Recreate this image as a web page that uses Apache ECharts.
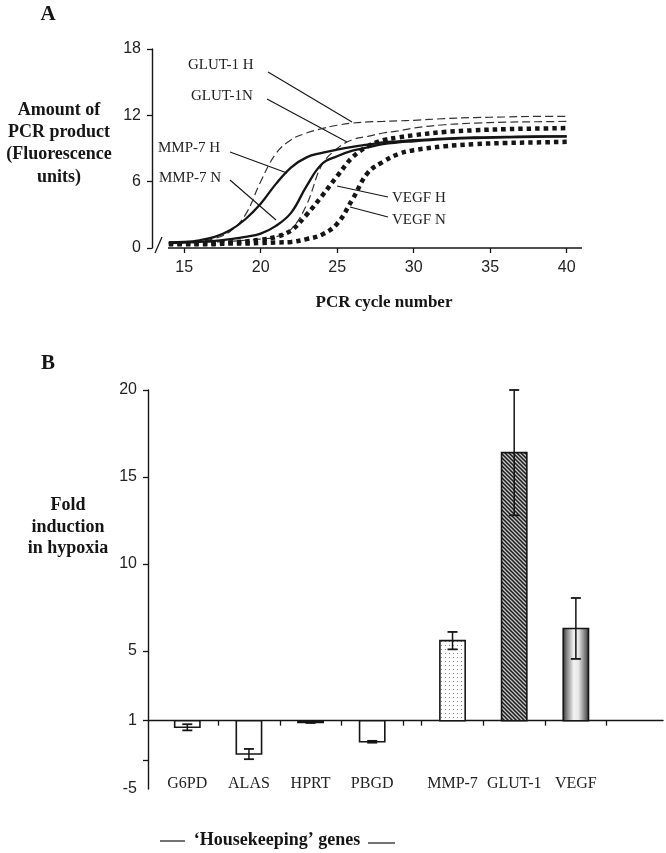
<!DOCTYPE html>
<html><head><meta charset="utf-8">
<script src="https://cdn.jsdelivr.net/npm/echarts@6/dist/echarts.min.js"></script>
<style>html,body{margin:0;padding:0;background:#fff}#c{width:666px;height:853px}</style>
</head><body><div id="c"></div>
<script>
// ---------- Panel A data (PCR amplification curves) ----------
const cycles  = [14,15,16,17,18,19,20,21,22,23,24,25,26,27,28,29,30,32,34,36,38,40];
const glut1H  = [0.45,0.5,0.6,0.85,1.5,3.0,6.0,8.55,9.8,10.4,10.8,11.1,11.3,11.4,11.45,11.5,11.55,11.7,11.8,11.85,11.9,11.9];
const glut1N  = [0.4,0.45,0.5,0.55,0.6,0.7,0.8,1.0,1.7,3.9,7.5,9.0,9.8,10.1,10.4,10.6,10.85,11.15,11.3,11.38,11.42,11.45];
const mmp7H   = [0.5,0.55,0.7,1.0,1.6,2.6,4.0,5.8,7.3,8.2,8.6,8.9,9.15,9.35,9.55,9.65,9.75,9.9,10.0,10.05,10.1,10.1];
const mmp7N   = [0.45,0.5,0.55,0.65,0.8,1.0,1.3,2.0,3.2,5.6,7.6,8.3,8.8,9.1,9.4,9.55,9.65,9.85,9.95,10.0,10.05,10.1];
const vegfH   = [0.4,0.4,0.4,0.45,0.5,0.6,0.75,1.0,1.6,3.0,4.7,6.5,8.2,9.2,9.75,10.0,10.2,10.5,10.65,10.75,10.8,10.85];
const vegfN   = [0.35,0.35,0.35,0.35,0.4,0.4,0.45,0.5,0.55,0.8,1.2,2.2,4.4,6.8,7.8,8.5,8.85,9.2,9.4,9.5,9.55,9.6];
const aXTicks = [15,20,25,30,35,40];

// ---------- Panel B data (fold induction) ----------
const hkGenes = ['G6PD','ALAS','HPRT','PBGD'];
const hkFold  = [0.42,-1.93,0.85,-0.85];
const hkErr   = [0.27,0.45,0.05,0.08];
const tgGenes = ['MMP-7','GLUT-1','VEGF'];
const tgFold  = [5.6,16.4,6.3];
const tgErr   = [0.5,3.6,1.75];
const bUpperTicks = [1,5,10,15,20];
const bLowerTicks = [-2.5];
const bLowerLabels = [-5];

const chart = echarts.init(document.getElementById('c'), null, {renderer:'canvas'});
const INK = '#151515';
const sans = 'Liberation Sans, Arial, sans-serif';
const serif = 'Liberation Serif, Times New Roman, serif';

function makeCanvas(w,h){const c=document.createElement('canvas');c.width=w;c.height=h;return c;}
function dotPattern(){const c=makeCanvas(4,4);const g=c.getContext('2d');g.fillStyle='#fff';g.fillRect(0,0,4,4);g.fillStyle='#8a8a8a';g.fillRect(1,1,1,1);return c;}
function hatchPattern(){const c=makeCanvas(4,4);const g=c.getContext('2d');g.fillStyle='#c4c4c4';g.fillRect(0,0,4,4);
  g.strokeStyle='#1c1c1c';g.lineWidth=1.5;g.beginPath();g.moveTo(-1,-1);g.lineTo(5,5);g.moveTo(-1,3);g.lineTo(1,5);g.moveTo(3,-1);g.lineTo(5,1);g.stroke();return c;}
const tgFills = [
  {image: dotPattern(), repeat:'repeat'},
  {image: hatchPattern(), repeat:'repeat'},
  new echarts.graphic.LinearGradient(0,0,1,0,[
    {offset:0,color:'#2e2e2e'},{offset:0.18,color:'#8a8a8a'},{offset:0.42,color:'#f2f2f2'},
    {offset:0.6,color:'#e6e6e6'},{offset:0.85,color:'#777'},{offset:1,color:'#2a2a2a'}])
];

function barRenderer(fills){
  return function(params, api){
    const i = api.value(0), v = api.value(1), e = api.value(2);
    const base = api.coord([i, 1]);
    const top = api.coord([i, v]);
    const bw = api.size([1,0])[0]*0.41;
    const hi = api.coord([i, v+e]), lo = api.coord([i, v-e]);
    const cx = base[0];
    const y0 = Math.min(base[1], top[1]), h = Math.abs(base[1]-top[1]);
    const ls = {stroke:INK, lineWidth:1.5};
    return {type:'group', children:[
      {type:'rect', shape:{x:cx-bw/2, y:y0, width:bw, height:Math.max(h,0.5)}, style:{fill:fills[i]||'#fff', stroke:INK, lineWidth:1.6}},
      {type:'line', shape:{x1:cx, y1:hi[1], x2:cx, y2:lo[1]}, style:ls},
      {type:'line', shape:{x1:cx-5, y1:hi[1], x2:cx+5, y2:hi[1]}, style:{stroke:INK, lineWidth:1.8}},
      {type:'line', shape:{x1:cx-5, y1:lo[1], x2:cx+5, y2:lo[1]}, style:{stroke:INK, lineWidth:1.8}}
    ]};
  };
}

function lineSeries(name, arr, style){
  return {name, type:'line', xAxisIndex:0, yAxisIndex:0, showSymbol:false, smooth:0.4,
    data: cycles.map((c,k)=>[c, arr[k]]), lineStyle: style, silent:true};
}

const tickStyle = {color:INK, width:1.3};
const option = {
  animation:false,
  backgroundColor:'#fff',
  grid:[
    {left:152, top:49, width:430, height:199},
    {left:148, top:390, width:515, height:330.7},
    {left:148, top:720.7, width:515, height:68.3},
    {left:156.5, top:720.7, width:246.5, height:68.3},
    {left:421.7, top:390, width:185, height:330.7}
  ],
  xAxis:[
    {gridIndex:0, type:'value', min:12.9, max:41, axisLine:{show:false, onZero:false},
     axisTick:{show:true, customValues:aXTicks, length:5, lineStyle:tickStyle},
     axisLabel:{customValues:aXTicks, margin:12, fontSize:16, fontFamily:sans, color:'#222'}, splitLine:{show:false}},
    {gridIndex:1, type:'value', min:0, max:1, axisLine:{show:true, onZero:false, lineStyle:{color:INK, width:1.4}},
     axisTick:{show:false}, axisLabel:{show:false}, splitLine:{show:false}},
    {gridIndex:2, type:'value', min:0, max:1, show:false},
    {gridIndex:3, type:'category', data:hkGenes, position:'top', axisLine:{show:false, onZero:false},
     axisTick:{show:true, inside:true, length:5, interval:(idx)=>idx>0, lineStyle:tickStyle},
     axisLabel:{inside:true, interval:0, margin:55, fontSize:16, fontFamily:serif, color:'#222'}},
    {gridIndex:4, type:'category', data:tgGenes, position:'bottom', axisLine:{show:false, onZero:false},
     axisTick:{show:true, length:5, lineStyle:tickStyle},
     axisLabel:{interval:0, margin:55, fontSize:16, fontFamily:serif, color:'#222'}}
  ],
  yAxis:[
    {gridIndex:0, type:'value', min:0, max:18, interval:6, axisLine:{show:true, lineStyle:{color:INK, width:1.4}},
     axisTick:{show:true, length:5, lineStyle:tickStyle}, axisLabel:{margin:11, fontSize:16, fontFamily:sans, color:'#222'},
     splitLine:{show:false}},
    {gridIndex:1, type:'value', min:1, max:20, axisLine:{show:true, lineStyle:{color:INK, width:1.4}},
     axisTick:{show:true, customValues:bUpperTicks, length:5, lineStyle:tickStyle},
     axisLabel:{customValues:bUpperTicks, margin:11, fontSize:16, fontFamily:sans, color:'#222'}, splitLine:{show:false}},
    {gridIndex:2, type:'value', min:-5, max:1, axisLine:{show:true, lineStyle:{color:INK, width:1.4}},
     axisTick:{show:true, customValues:bLowerTicks, length:5, lineStyle:tickStyle},
     axisLabel:{customValues:bLowerLabels, margin:11, fontSize:16, fontFamily:sans, color:'#222'}, splitLine:{show:false}},
    {gridIndex:3, type:'value', min:-5, max:1, show:false},
    {gridIndex:4, type:'value', min:1, max:20, show:false}
  ],
  series:[
    lineSeries('GLUT-1 H', glut1H, {color:'#333', width:1.2, type:[8,4]}),
    lineSeries('GLUT-1N', glut1N, {color:'#333', width:1.2, type:[8,4]}),
    lineSeries('MMP-7 H', mmp7H, {color:INK, width:2.3}),
    lineSeries('MMP-7 N', mmp7N, {color:INK, width:2.3}),
    lineSeries('VEGF H', vegfH, {color:INK, width:4.5, type:[4.5,4], cap:'butt'}),
    lineSeries('VEGF N', vegfN, {color:INK, width:4.5, type:[4.5,4], cap:'butt'}),
    {type:'custom', name:'Housekeeping', xAxisIndex:3, yAxisIndex:3, clip:false,
     renderItem: barRenderer(['#fff','#fff','#fff','#fff']),
     data: hkGenes.map((g,i)=>[i, hkFold[i], hkErr[i]])},
    {type:'custom', name:'Targets', xAxisIndex:4, yAxisIndex:4, clip:false,
     renderItem: barRenderer(tgFills),
     data: tgGenes.map((g,i)=>[i, tgFold[i], tgErr[i]])}
  ]
};
chart.setOption(option);

// ---------- annotations / titles (layout only) ----------
const annotations = [
  {text:'GLUT-1 H', tx:188, ty:65, from:[268,72], to:[352,122]},
  {text:'GLUT-1N', tx:191, ty:96, from:[267,99], to:[347,142]},
  {text:'MMP-7 H', tx:158, ty:148, from:[230,152], to:[287,173]},
  {text:'MMP-7 N', tx:159, ty:178, from:[230,180], to:[276,220]},
  {text:'VEGF H', tx:392, ty:198, from:[388,197], to:[337,186]},
  {text:'VEGF N', tx:392, ty:220, from:[388,217], to:[350,207]}
];
const g = [];
annotations.forEach((a,k)=>{
  g.push({type:'text', style:{text:a.text, x:a.tx, y:a.ty, font:'15px '+serif, fill:'#222', textAlign:'left', textVerticalAlign:'middle'}});
  g.push({type:'line', shape:{x1:a.from[0], y1:a.from[1], x2:a.to[0], y2:a.to[1]}, style:{stroke:INK, lineWidth:1.1}});
});
const bold = (s)=>'bold '+s+'px '+serif;
g.push({type:'text', style:{text:'A', x:48, y:15, font:bold(21), fill:INK, textAlign:'center', textVerticalAlign:'middle'}});
g.push({type:'text', style:{text:'B', x:48, y:364, font:bold(21), fill:INK, textAlign:'center', textVerticalAlign:'middle'}});
g.push({type:'text', style:{text:'Amount of\nPCR product\n(Fluorescence\nunits)', x:59, y:143.5, font:bold(18), lineHeight:22.3, fill:INK, textAlign:'center', textVerticalAlign:'middle'}});
g.push({type:'text', style:{text:'PCR cycle number', x:384, y:303, font:bold(17), fill:INK, textAlign:'center', textVerticalAlign:'middle'}});
g.push({type:'text', style:{text:'Fold\ninduction\nin hypoxia', x:68, y:527, font:bold(18), lineHeight:21.7, fill:INK, textAlign:'center', textVerticalAlign:'middle'}});
g.push({type:'text', style:{text:'\u2018Housekeeping\u2019 genes', x:277, y:840, font:bold(18), fill:INK, textAlign:'center', textVerticalAlign:'middle'}});
g.push({type:'line', shape:{x1:160, y1:841, x2:185, y2:841}, style:{stroke:INK, lineWidth:1.2}});
g.push({type:'line', shape:{x1:368, y1:843, x2:395, y2:843}, style:{stroke:INK, lineWidth:1.2}});
// panel A x-axis line (starts after the axis break) and break mark
g.push({type:'line', shape:{x1:168, y1:248, x2:582, y2:248}, style:{stroke:INK, lineWidth:1.4}});
g.push({type:'line', shape:{x1:155, y1:253, x2:162, y2:237}, style:{stroke:INK, lineWidth:1.3}});
chart.setOption({graphic:g});
</script></body></html>
